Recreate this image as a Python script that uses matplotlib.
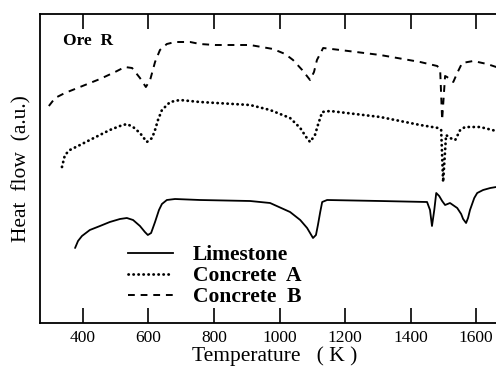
import matplotlib
matplotlib.use("Agg")
import matplotlib.pyplot as plt
from matplotlib.lines import Line2D

# Concrete B (dashed)
tB = [296, 315, 345, 391, 452, 498, 528, 550, 574, 592, 605, 620, 635, 656, 681, 727, 757, 803, 910,
      980, 1017, 1041, 1069, 1093, 1105, 1114, 1133, 1185, 1307, 1429, 1481, 1490, 1496, 1505, 1511,
      1530, 1542, 1557, 1591, 1633, 1661]
hB = [217, 225, 230, 236, 244, 251, 256, 255, 245, 236, 243, 261, 273, 279, 281, 281, 279, 278, 278,
      274, 269, 263, 253, 243, 251, 263, 275, 273, 268, 261, 257, 253, 203, 247, 246,
      241, 250, 260, 262, 259, 256]

# Concrete A (dotted)
tA = [336, 345, 360, 391, 421, 482, 513, 534, 553, 574, 595, 611, 620, 629, 641, 666, 696, 757, 910,
      971, 1032, 1063, 1081, 1093, 1108, 1117, 1130, 1154, 1307, 1429, 1484, 1493, 1499, 1508, 1520,
      1536, 1551, 1566, 1612, 1661]
hA = [156, 168, 173, 178, 183, 193, 197, 199, 196, 190, 181, 185, 193, 203, 213, 221, 223, 221, 218,
      213, 205, 195, 186, 181, 188, 198, 211, 212, 206, 198, 195, 193, 141, 188, 185,
      183, 193, 196, 196, 192]

# Limestone (solid)
tL = [376, 385, 397, 421, 452, 482, 513, 534, 553, 574, 589, 598, 608, 620, 632, 641, 656, 681, 757,
      910, 971, 1032, 1063, 1084, 1102, 1111, 1117, 1124, 1130, 1145, 1307, 1450, 1459, 1465, 1472,
      1478, 1487, 1496, 1505, 1520, 1542, 1554, 1560, 1569, 1575, 1581, 1594, 1603, 1621, 1643, 1661]
hL = [75, 82, 87, 93, 97, 101, 104, 105, 103, 97, 91, 88, 90, 101, 113, 119, 123, 124, 123,
      122, 120, 111, 103, 95, 85, 88, 98, 111, 121, 123, 122, 121, 113, 97, 113,
      130, 127, 122, 118, 120, 115, 109, 104, 100, 105, 113, 125, 130, 133, 135, 136]

xticks = [400, 600, 800, 1000, 1200, 1400, 1600]
labels = ["Limestone", "Concrete  A", "Concrete  B"]

fig = plt.figure(figsize=(4.96, 3.66), dpi=100)
ax = fig.add_axes([40/496, 43/366, 469/496, 309/366])
serif = "Liberation Serif"

ax.plot(tL, hL, color="black", lw=1.3, ls="-", solid_capstyle="round")
ax.plot(tA, hA, color="black", lw=2.0, ls=(0, (0.1, 1.7)), dash_capstyle="round")
ax.plot(tB, hB, color="black", lw=1.4, ls=(0, (3.5, 3.0)))

ax.set_xlim(269, 1700)
ax.set_ylim(0, 309)
ax.set_xticks(xticks)
ax.set_yticks([])
ax.tick_params(axis="x", direction="in", length=11, width=1.2, top=True, bottom=True,
               labelsize=12.5, pad=5)
for lab in ax.get_xticklabels():
    lab.set_fontfamily(serif)
for s in ["left", "bottom", "top"]:
    ax.spines[s].set_linewidth(1.3)
ax.spines["right"].set_visible(False)

ax.set_xlabel("Temperature   ( K )", fontfamily=serif, fontsize=15.5, labelpad=0)
ax.set_ylabel("Heat  flow  (a.u.)", fontfamily=serif, fontsize=15.5, labelpad=6)

ax.text((63 - 40)/469, 1 - 27/309, "Ore  R", transform=ax.transAxes, fontfamily=serif,
        fontweight="bold", fontsize=12.5, va="center", ha="left")

handles = [Line2D([], [], color="black", lw=1.3, ls="-"),
           Line2D([], [], color="black", lw=2.0, ls=(0, (0.1, 1.7)), dash_capstyle="round"),
           Line2D([], [], color="black", lw=1.4, ls=(0, (3.5, 3.0)))]
leg = ax.legend(handles, labels, loc="upper left", bbox_to_anchor=((128 - 40)/469, (323 - 245)/309),
                frameon=False, handlelength=2.1, handletextpad=0.9, labelspacing=0.05,
                borderpad=0, borderaxespad=0,
                prop={"family": serif, "weight": "bold", "size": 15.5})

fig.savefig("out.png", dpi=100)
